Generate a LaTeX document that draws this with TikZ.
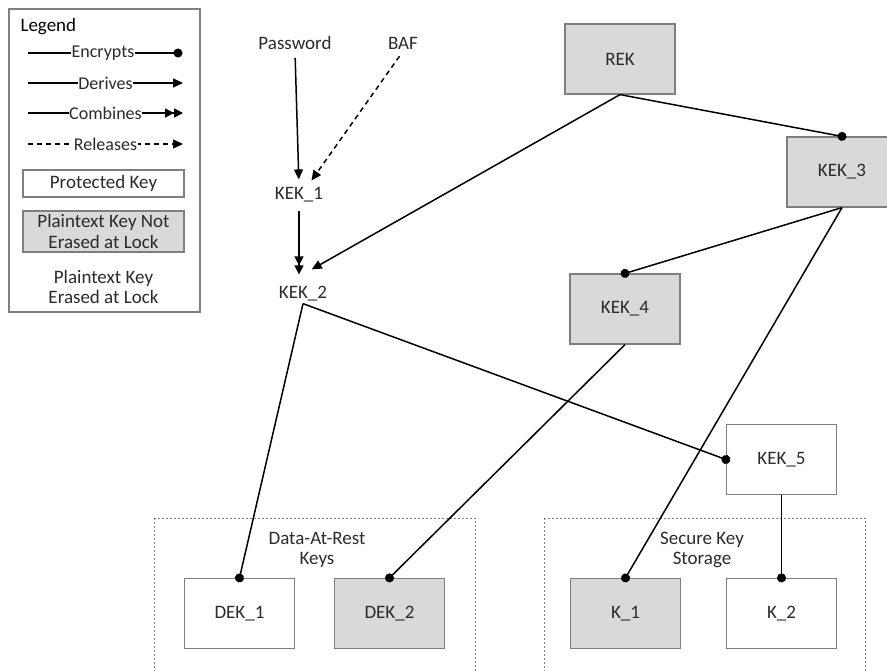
\documentclass[tikz,border=0pt]{standalone}
\usepackage{fontspec}
\setmainfont{Carlito}
\usetikzlibrary{arrows.meta}
\definecolor{keyfill}{HTML}{D9D9D9}
\definecolor{keyline}{HTML}{7F7F7F}
\definecolor{keytext}{HTML}{2B2B2B}
\begin{document}
\begin{tikzpicture}[x=1pt,y=-1pt,
    font=\fontsize{19}{20.5}\selectfont, text=keytext,
    key/.style={draw=keyline, fill=white, line width=1.2pt, minimum width=110pt, minimum height=70pt},
    plainkey/.style={key, fill=keyfill},
    label/.style={align=center, inner sep=2pt},
    group/.style={draw=keyline, line width=1pt, dash pattern=on 2pt off 2pt},
    encrypts/.style={line width=1.5pt, -{Circle[length=9pt]}, shorten >=-4.5pt},
    derives/.style={line width=1.5pt, -{Triangle[length=10pt,width=9pt]}},
    combines/.style={line width=1.5pt, -{Triangle[length=9pt,width=9pt] Triangle[length=9pt,width=9pt]}},
    releases/.style={line width=1.5pt, dash pattern=on 5pt off 4pt, -{Triangle[length=10pt,width=9pt]}}]
  \clip (0,0) rectangle (887,670);
  % legend
  \draw[draw=keyline, line width=1.2pt] (9,9) rectangle (200,312);
  \node[anchor=west, text=black] (legend) at (17,27) {Legend};
  \coordinate (enc-a) at (28,53);  \coordinate (enc-b) at (178,53);
  \coordinate (der-a) at (28,83);  \coordinate (der-b) at (183,83);
  \coordinate (com-a) at (28,113); \coordinate (com-b) at (183,113);
  \coordinate (rel-a) at (28,144); \coordinate (rel-b) at (183,144);
  \draw[encrypts] (enc-a) to node[fill=white, inner sep=0.5pt, font=\fontsize{18}{20}\selectfont] {Encrypts} (enc-b);
  \draw[derives] (der-a) to node[fill=white, inner sep=0.5pt, font=\fontsize{18}{20}\selectfont] {Derives} (der-b);
  \draw[combines] (com-a) to node[fill=white, inner sep=0.5pt, font=\fontsize{18}{20}\selectfont] {Combines} (com-b);
  \draw[releases] (rel-a) to node[fill=white, inner sep=0.5pt, font=\fontsize{18}{20}\selectfont] {Releases} (rel-b);
  \node[key, minimum width=161pt, minimum height=27pt] (protected) at (103.5,183.5) {Protected Key};
  \node[plainkey, minimum width=161pt, minimum height=41pt, align=center] (noterased) at (103.5,231.5) {Plaintext Key Not\\Erased at Lock};
  \node[label] (erased) at (103.5,287) {Plaintext Key\\Erased at Lock};
  % groups
  \draw[group] (154,518) rectangle (475,700);
  \draw[group] (544,518) rectangle (865,700);
  \node[label] (darkeys) at (317,550) {Data-At-Rest\\Keys};
  \node[label] (skstorage) at (702,550) {Secure Key\\Storage};
  % keys
  \node[label] (password) at (295,43) {Password};
  \node[label] (baf) at (403,43) {BAF};
  \node[label] (kek1) at (299,195) {KEK\_1};
  \node[label] (kek2) at (303,294) {KEK\_2};
  \node[plainkey] (rek) at (620,59) {REK};
  \node[plainkey] (kek3) at (842,172) {KEK\_3};
  \node[plainkey] (kek4) at (625,309) {KEK\_4};
  \node[key] (kek5) at (781.5,459.5) {KEK\_5};
  \node[key] (dek1) at (239.5,613.5) {DEK\_1};
  \node[plainkey] (dek2) at (389.5,613.5) {DEK\_2};
  \node[plainkey] (k1) at (625.5,613.5) {K\_1};
  \node[key] (k2) at (781.5,613.5) {K\_2};
  % derivation
  \draw[derives, shorten <=6pt, shorten >=6pt] (password.south) to (kek1.north);
  \draw[releases, shorten <=6pt, shorten >=6pt] (baf.south) to ([xshift=9pt]kek1.north);
  \draw[combines, shorten <=6pt, shorten >=10pt] (kek1.south) to ([xshift=-4pt]kek2.north);
  \draw[derives, shorten >=2pt] (rek.south) to ([xshift=7pt,yshift=14pt]kek2.north);
  \begin{scope}[encrypts]
    \draw (rek.south) to (kek3.north);
    \draw (kek3.south) to (kek4.north);
    \draw (kek3.south) to (k1.north);
    \draw (kek2.south) to (dek1.north);
    \draw (kek2.south) to (kek5.west);
    \draw (kek4.south) to (dek2.north);
    \draw (kek5.south) to (k2.north);
  \end{scope}
\end{tikzpicture}
\end{document}
